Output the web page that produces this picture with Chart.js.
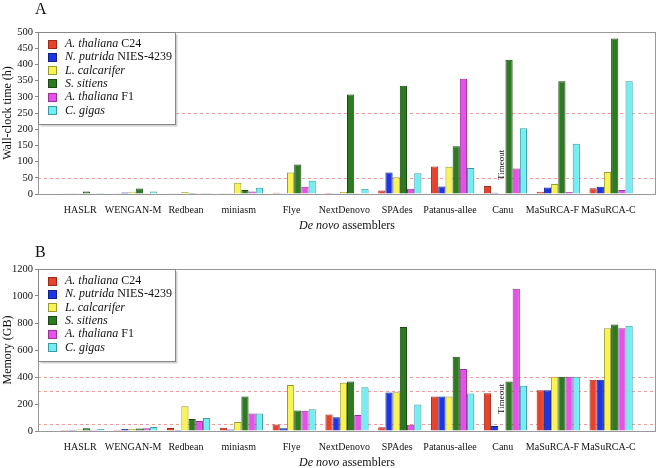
<!DOCTYPE html>
<html>
<head>
<meta charset="utf-8">
<script src="https://cdn.jsdelivr.net/npm/chart.js@4.4.1/dist/chart.umd.min.js"></script>
<style>
  body { margin: 0; background: #fff; }
  canvas { display: block; }
</style>
</head>
<body>
<canvas id="chartA" width="658" height="234"></canvas>
<canvas id="chartB" width="658" height="234"></canvas>
<script>
// categories
const assemblers = ['HASLR', 'WENGAN-M', 'Redbean', 'miniasm', 'Flye', 'NextDenovo',
  'SPAdes', 'Patanus-allee', 'Canu', 'MaSuRCA-F', 'MaSuRCA-C'];

// legend names: [italic part, plain part]
const speciesNames = [
  ['A. thaliana', ' C24'],
  ['N. putrida', ' NIES-4239'],
  ['L. calcarifer', ''],
  ['S. sitiens', ''],
  ['A. thaliana', ' F1'],
  ['C. gigas', '']
];

// A: wall-clock time (h); null = Timeout
const timeC24 = [0.5, 0.5, 0.5, 1, 4, 3, 11, 85, 25, 7, 18];
const timeNputrida = [1, 5, 0.5, 0.5, 0.5, 0.5, 66, 23, 4, 20, 22];
const timeLcalcarifer = [1, 7, 6, 35, 66, 6, 52, 84, null, 31, 68];
const timeSsitiens = [8, 17, 3, 12, 91, 307, 334, 147, 414, 348, 480];
const timeF1 = [1, 2, 1, 8, 22, 1, 16, 356, 79, 6, 12];
const timeCgigas = [3, 8, 3, 19, 41, 16, 64, 80, 203, 155, 348];

// B: memory (GB)
const memC24 = [8, 10, 22, 25, 49, 123, 27, 255, 280, 302, 380];
const memNputrida = [10, 15, 8, 12, 20, 101, 285, 255, 37, 302, 380];
const memLcalcarifer = [12, 15, 184, 66, 341, 358, 287, 255, null, 402, 761];
const memSsitiens = [20, 18, 88, 255, 152, 366, 770, 550, 366, 402, 788];
const memF1 = [10, 20, 74, 130, 150, 118, 47, 459, 1053, 402, 761];
const memCgigas = [15, 29, 96, 130, 162, 324, 196, 277, 336, 402, 780];

// axis ticks and reference lines
const timeTicks = [0, 50, 100, 150, 200, 250, 300, 350, 400, 450, 500];
const memTicks = [0, 100, 200, 300, 400, 500, 600, 700, 800, 900, 1000, 1100, 1200];
const timeRefLines = [50, 250];
const memRefLines = [50, 300, 400];

const fills = ['#e8412c', '#1c36e6', '#f8f552', '#2e7a22', '#e552e8', '#72eff4'];
const borders = ['#9a2a1a', '#10208a', '#9a9a30', '#1a4a12', '#9a309a', '#3a9aa0'];
const SERIF = '"Liberation Serif", "DejaVu Serif", serif';

// labels sit a little left of the bar groups in the original
function labelPos(i) {
  return i - (i === 9 ? 0.11 : 0.05);
}

function mixedText(ctx, parts, x, y, size) {
  parts.forEach(p => {
    ctx.font = (p.italic ? 'italic ' : '') + size + 'px ' + SERIF;
    ctx.fillText(p.text, x, y);
    x += ctx.measureText(p.text).width;
  });
}

function mixedWidth(ctx, parts, size) {
  let w = 0;
  parts.forEach(p => {
    ctx.font = (p.italic ? 'italic ' : '') + size + 'px ' + SERIF;
    w += ctx.measureText(p.text).width;
  });
  return w;
}

const panelPlugin = {
  id: 'panel',
  beforeDatasetsDraw(chart, args, opts) {
    const { ctx, chartArea: a, scales: { y } } = chart;
    ctx.save();
    ctx.strokeStyle = 'rgba(235,120,120,0.75)';
    ctx.lineWidth = 1;
    ctx.setLineDash([3, 3]);
    opts.refLines.forEach(v => {
      const py = Math.round(y.getPixelForValue(v)) + 0.5;
      ctx.beginPath();
      ctx.moveTo(a.left, py);
      ctx.lineTo(a.right, py);
      ctx.stroke();
    });
    ctx.restore();
  },
  afterDatasetsDraw(chart, args, opts) {
    const { ctx, chartArea: a } = chart;
    ctx.save();
    // frame
    ctx.strokeStyle = '#999';
    ctx.lineWidth = 1;
    ctx.strokeRect(a.left + 0.5, a.top + 0.5, a.right - a.left - 1, a.bottom - a.top);

    // legend box
    const lx = a.left + 0.5, ly = a.top + 0.5, lw = 137, lh = 92;
    ctx.fillStyle = 'rgba(180,180,180,0.6)';
    ctx.fillRect(lx + 2, ly + 2, lw, lh);
    ctx.fillStyle = '#fff';
    ctx.fillRect(lx, ly, lw, lh);
    ctx.strokeStyle = '#888';
    ctx.strokeRect(lx, ly, lw, lh);
    ctx.textBaseline = 'middle';
    ctx.textAlign = 'left';
    speciesNames.forEach((n, i) => {
      const cy = a.top + 12 + i * 13.3;
      ctx.fillStyle = fills[i];
      ctx.fillRect(a.left + 10, Math.round(cy - 4.5), 9, 9);
      ctx.strokeStyle = borders[i];
      ctx.strokeRect(a.left + 10.5, Math.round(cy - 4.5) + 0.5, 8, 8);
      ctx.fillStyle = '#111';
      mixedText(ctx, [{ text: n[0], italic: true }, { text: n[1] }], a.left + 27, cy, 12);
    });

    // Timeout label on the missing Canu bar
    const bar = chart.getDatasetMeta(2).data[8];
    ctx.save();
    ctx.translate(bar.x, a.bottom - opts.timeoutGap);
    ctx.rotate(-Math.PI / 2);
    ctx.font = '9px ' + SERIF;
    ctx.fillStyle = '#111';
    ctx.textBaseline = 'middle';
    ctx.fillText('Timeout', 0, 0);
    ctx.restore();

    // panel letter
    ctx.font = '16px ' + SERIF;
    ctx.fillStyle = '#111';
    ctx.textBaseline = 'alphabetic';
    ctx.fillText(opts.letter, 35, opts.letterY);

    // x title
    const parts = [{ text: 'De novo', italic: true }, { text: ' assemblers' }];
    const w = mixedWidth(ctx, parts, 12);
    ctx.textBaseline = 'middle';
    mixedText(ctx, parts, (a.left + a.right) / 2 - w / 2, opts.xTitleY, 12);
    ctx.restore();
  }
};

function makeChart(id, series, yMax, yTicks, yTitle, panel, topPad) {
  const datasets = series.map((vals, i) => ({
    label: speciesNames[i].join(''),
    data: vals.map((v, j) => ({ x: j, y: v })),
    backgroundColor: fills[i],
    borderColor: borders[i],
    borderWidth: 1,
    categoryPercentage: 0.87,
    barPercentage: 1
  }));
  return new Chart(document.getElementById(id), {
    type: 'bar',
    data: { datasets },
    plugins: [panelPlugin],
    options: {
      responsive: false,
      animation: false,
      layout: { padding: { top: topPad, right: 2, left: 0, bottom: 0 } },
      plugins: {
        legend: { display: false },
        tooltip: { enabled: false },
        panel
      },
      scales: {
        x: {
          type: 'linear',
          min: -0.85,
          max: 10.85,
          offset: false,
          grid: { display: false, drawTicks: false },
          border: { display: false },
          afterBuildTicks: s => { s.ticks = assemblers.map((_, i) => ({ value: labelPos(i) })); },
          ticks: {
            autoSkip: false,
            maxRotation: 0,
            padding: 10,
            color: '#111',
            font: { family: SERIF, size: 10 },
            callback: (v, i) => assemblers[i]
          },
          afterFit: s => { s.height = 234 - topPad - 162; }
        },
        y: {
          min: 0,
          max: yMax,
          afterBuildTicks: s => { s.ticks = yTicks.map(v => ({ value: v })); },
          grid: { drawOnChartArea: false, drawTicks: true, tickLength: 3, color: '#888' },
          border: { display: true, color: '#999' },
          ticks: {
            padding: 2,
            color: '#111',
            font: { family: SERIF, size: 10.5 },
            callback: v => String(v)
          },
          title: {
            display: true,
            text: yTitle,
            color: '#111',
            font: { family: SERIF, size: 12 },
            padding: { top: 1, bottom: 0 }
          },
          afterFit: s => { s.width = 38; }
        }
      }
    }
  });
}

makeChart('chartA',
  [timeC24, timeNputrida, timeLcalcarifer, timeSsitiens, timeF1, timeCgigas],
  500, timeTicks, 'Wall-clock time (h)',
  { refLines: timeRefLines, letter: 'A', letterY: 14, xTitleY: 226, timeoutGap: 14 },
  32);

makeChart('chartB',
  [memC24, memNputrida, memLcalcarifer, memSsitiens, memF1, memCgigas],
  1200, memTicks, 'Memory (GB)',
  { refLines: memRefLines, letter: 'B', letterY: 23, xTitleY: 229, timeoutGap: 17 },
  35);
</script>
</body>
</html>
